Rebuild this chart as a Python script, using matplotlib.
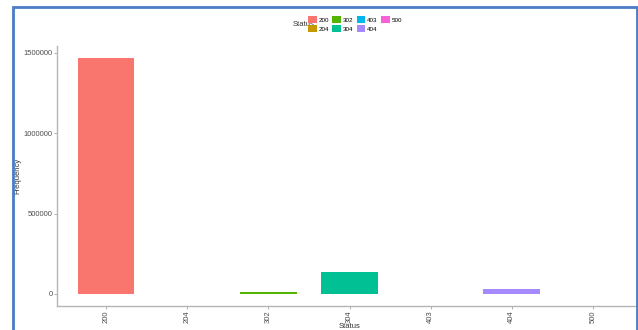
import matplotlib
matplotlib.use("Agg")
import matplotlib.pyplot as plt
from matplotlib.patches import Patch, Rectangle

statuses = ["200", "204", "302", "304", "403", "404", "500"]
frequency = [1470000, 300, 13000, 137000, 200, 30000, 100]
colors = ["#F8766D", "#C49A00", "#53B400", "#00C094", "#00B6EB", "#A58AFF", "#FB61D7"]
yticks = [0, 500000, 1000000, 1500000]

plt.rcParams['font.family'] = ['Liberation Sans', 'DejaVu Sans']

fig = plt.figure(figsize=(6.38, 3.30), dpi=100)
ax = fig.add_axes([57.3/638, 24.2/330, (641.7-57.3)/638, (305.8-45.7)/330])

x = list(range(1, len(statuses) + 1))
ax.bar(x, frequency, width=0.7, color=colors, edgecolor='none')
ymax = max(frequency)
ax.set_xlim(0.4, len(statuses) + 0.6)
ax.set_ylim(-0.05*ymax, 1.05*ymax)
ax.set_xticks(x)
ax.set_xticklabels(statuses, rotation=90, fontsize=5.5, color='#4d4d4d')
ax.set_yticks(yticks)
ax.set_yticklabels([str(v) for v in yticks], fontsize=5.5, color='#4d4d4d')
ax.tick_params(length=2, width=0.6, color='#a0a0a0', pad=1.5)
for s in ['top', 'right']:
    ax.spines[s].set_visible(False)
for s in ['left', 'bottom']:
    ax.spines[s].set_color('#b5b5b5')
    ax.spines[s].set_linewidth(1.0)
ax.set_xlabel("Status", fontsize=5.5, color='#333333', labelpad=0)
ax.set_ylabel("Frequency", fontsize=5.5, color='#333333', labelpad=1.5)

handles = [Patch(facecolor=c, edgecolor='none', label=s) for s, c in zip(statuses, colors)]
fig.legend(handles=handles, ncol=4, loc='center', bbox_to_anchor=(355/638, 1 - 24/330),
           fontsize=4.5, frameon=False, handlelength=1.4, handleheight=1.4,
           handletextpad=0.3, columnspacing=0.5, labelspacing=0.3, borderpad=0)
fig.text(304/638, 1 - 25/330, "Status", fontsize=5.5, color='#333333', ha='center', va='center')

frame = Rectangle((12.5/638, -0.1), (636.5-12.5)/638, 1.1 - 7.5/330, transform=fig.transFigure,
                  fill=False, edgecolor='#4a7cc4', linewidth=2.0, clip_on=False)
fig.add_artist(frame)

fig.savefig("out.png", dpi=100)
